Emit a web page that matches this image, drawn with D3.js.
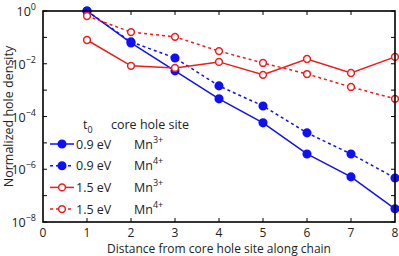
<!DOCTYPE html>
<html>
<head>
<meta charset="utf-8">
<script src="https://cdn.jsdelivr.net/npm/d3@7/dist/d3.min.js"></script>
<style>
  html, body { margin: 0; padding: 0; background: #fff; }
  svg { display: block; font-family: "Open Sans", "DejaVu Sans", sans-serif; }
  .lab { font-size: 12.5px; fill: #222; }
  .tk { font-size: 12px; fill: #222; }
</style>
</head>
<body>
<div id="chart"></div>
<script>
// distance from core hole site along chain
const sites = [1, 2, 3, 4, 5, 6, 7, 8];
// normalized hole density (log10 values)
const logBlue3 = [0, -1.21, -2.27, -3.33, -4.24, -5.42, -6.29, -7.5];   // 0.9 eV Mn3+
const logBlue4 = [0, -1.17, -1.78, -2.84, -3.6, -4.62, -5.42, -6.33];   // 0.9 eV Mn4+
const logRed3  = [-1.1, -2.08, -2.16, -1.93, -2.42, -1.82, -2.35, -1.74]; // 1.5 eV Mn3+
const logRed4  = [-0.19, -0.8, -0.98, -1.52, -1.97, -2.39, -2.88, -3.33]; // 1.5 eV Mn4+
const xTicks = [0, 1, 2, 3, 4, 5, 6, 7, 8];
const yMajor = [0, -2, -4, -6, -8];   // exponents
const yMinor = [-1, -3, -5, -7];

const series = [
  { t0: "0.9 eV", ion: "3+", vals: logBlue3, color: "#1010f8", dash: null, filled: true },
  { t0: "0.9 eV", ion: "4+", vals: logBlue4, color: "#1010f8", dash: "3,3", filled: true },
  { t0: "1.5 eV", ion: "3+", vals: logRed3,  color: "#ee1c1c", dash: null, filled: false },
  { t0: "1.5 eV", ion: "4+", vals: logRed4,  color: "#ee1c1c", dash: "3,3", filled: false }
];

const W = 399, H = 256;
const m = { left: 43, right: 4, top: 11, bottom: 34 };
const svg = d3.select("#chart").append("svg").attr("width", W).attr("height", H);

const x = d3.scaleLinear().domain([0, 8]).range([m.left, W - m.right]);
const y = d3.scaleLog().domain([1e-8, 1]).range([H - m.bottom, m.top]);

// ticks inward on all four sides
const tl = 4;
const g = svg.append("g").attr("stroke", "#000").attr("stroke-width", 1);
xTicks.slice(1, -1).forEach(v => {
  g.append("line").attr("x1", x(v)).attr("x2", x(v)).attr("y1", y(1e-8)).attr("y2", y(1e-8) - tl);
  g.append("line").attr("x1", x(v)).attr("x2", x(v)).attr("y1", y(1)).attr("y2", y(1) + tl);
});
yMajor.concat(yMinor).forEach(e => {
  const yy = y(Math.pow(10, e));
  g.append("line").attr("x1", x(0)).attr("x2", x(0) + tl).attr("y1", yy).attr("y2", yy);
  g.append("line").attr("x1", x(8)).attr("x2", x(8) - tl).attr("y1", yy).attr("y2", yy);
});

// x tick labels
svg.append("g").selectAll("text").data(xTicks).join("text")
  .attr("class", "tk").attr("x", d => x(d)).attr("y", y(1e-8) + 14.5)
  .attr("text-anchor", "middle").text(d => d);

// y tick labels 10^n
const yl = svg.append("g").selectAll("text").data(yMajor).join("text")
  .attr("class", "lab").attr("x", x(0) - 7).attr("y", d => y(Math.pow(10, d)) + 5)
  .attr("text-anchor", "end");
yl.append("tspan").text("10");
yl.append("tspan").attr("dy", -6).attr("font-size", "9px").text(d => d === 0 ? "0" : "\u2212" + (-d));

// lines and markers
const line = d3.line().x((d, i) => x(sites[i])).y(d => y(Math.pow(10, d)));
series.forEach(s => {
  svg.append("path").datum(s.vals).attr("d", line)
    .attr("fill", "none").attr("stroke", s.color).attr("stroke-width", 1.5)
    .attr("stroke-dasharray", s.dash);
  svg.append("g").selectAll("circle").data(s.vals).join("circle")
    .attr("cx", (d, i) => x(sites[i])).attr("cy", d => y(Math.pow(10, d)))
    .attr("r", s.filled ? 3.8 : 3.4)
    .attr("fill", s.filled ? s.color : "#fff")
    .attr("stroke", s.color).attr("stroke-width", 1.5);
});

// frame
svg.append("rect").attr("x", x(0)).attr("y", y(1))
  .attr("width", x(8) - x(0)).attr("height", y(1e-8) - y(1))
  .attr("fill", "none").attr("stroke", "#000").attr("stroke-width", 1.6);

// legend
const lg = svg.append("g");
const hdr = lg.append("text").attr("class", "lab").attr("x", 83).attr("y", 129);
hdr.append("tspan").text("t");
hdr.append("tspan").attr("dy", 4).attr("font-size", "9px").text("0");
lg.append("text").attr("class", "lab").attr("x", 111).attr("y", 129).text("core hole site");
series.forEach((s, i) => {
  const yy = 144 + i * 21.7;
  lg.append("line").attr("x1", 50).attr("x2", 74).attr("y1", yy).attr("y2", yy)
    .attr("stroke", s.color).attr("stroke-width", 1.5).attr("stroke-dasharray", s.dash);
  lg.append("circle").attr("cx", 62).attr("cy", yy).attr("r", s.filled ? 3.8 : 3.4)
    .attr("fill", s.filled ? s.color : "#fff").attr("stroke", s.color).attr("stroke-width", 1.5);
  lg.append("text").attr("class", "lab").attr("x", 76).attr("y", yy + 4.5).text(s.t0);
  const t = lg.append("text").attr("class", "lab").attr("x", 134).attr("y", yy + 4.5);
  t.append("tspan").text("Mn");
  t.append("tspan").attr("dy", -6).attr("font-size", "9px").text(s.ion);
});

// axis titles
svg.append("text").attr("class", "tk").attr("text-anchor", "middle")
  .attr("x", (x(0) + x(8)) / 2).attr("y", 252.5).text("Distance from core hole site along chain");
svg.append("text").attr("class", "lab").attr("text-anchor", "middle")
  .attr("transform", `translate(13,${(y(1) + y(1e-8)) / 2}) rotate(-90)`)
  .text("Normalized hole density");
</script>
</body>
</html>
